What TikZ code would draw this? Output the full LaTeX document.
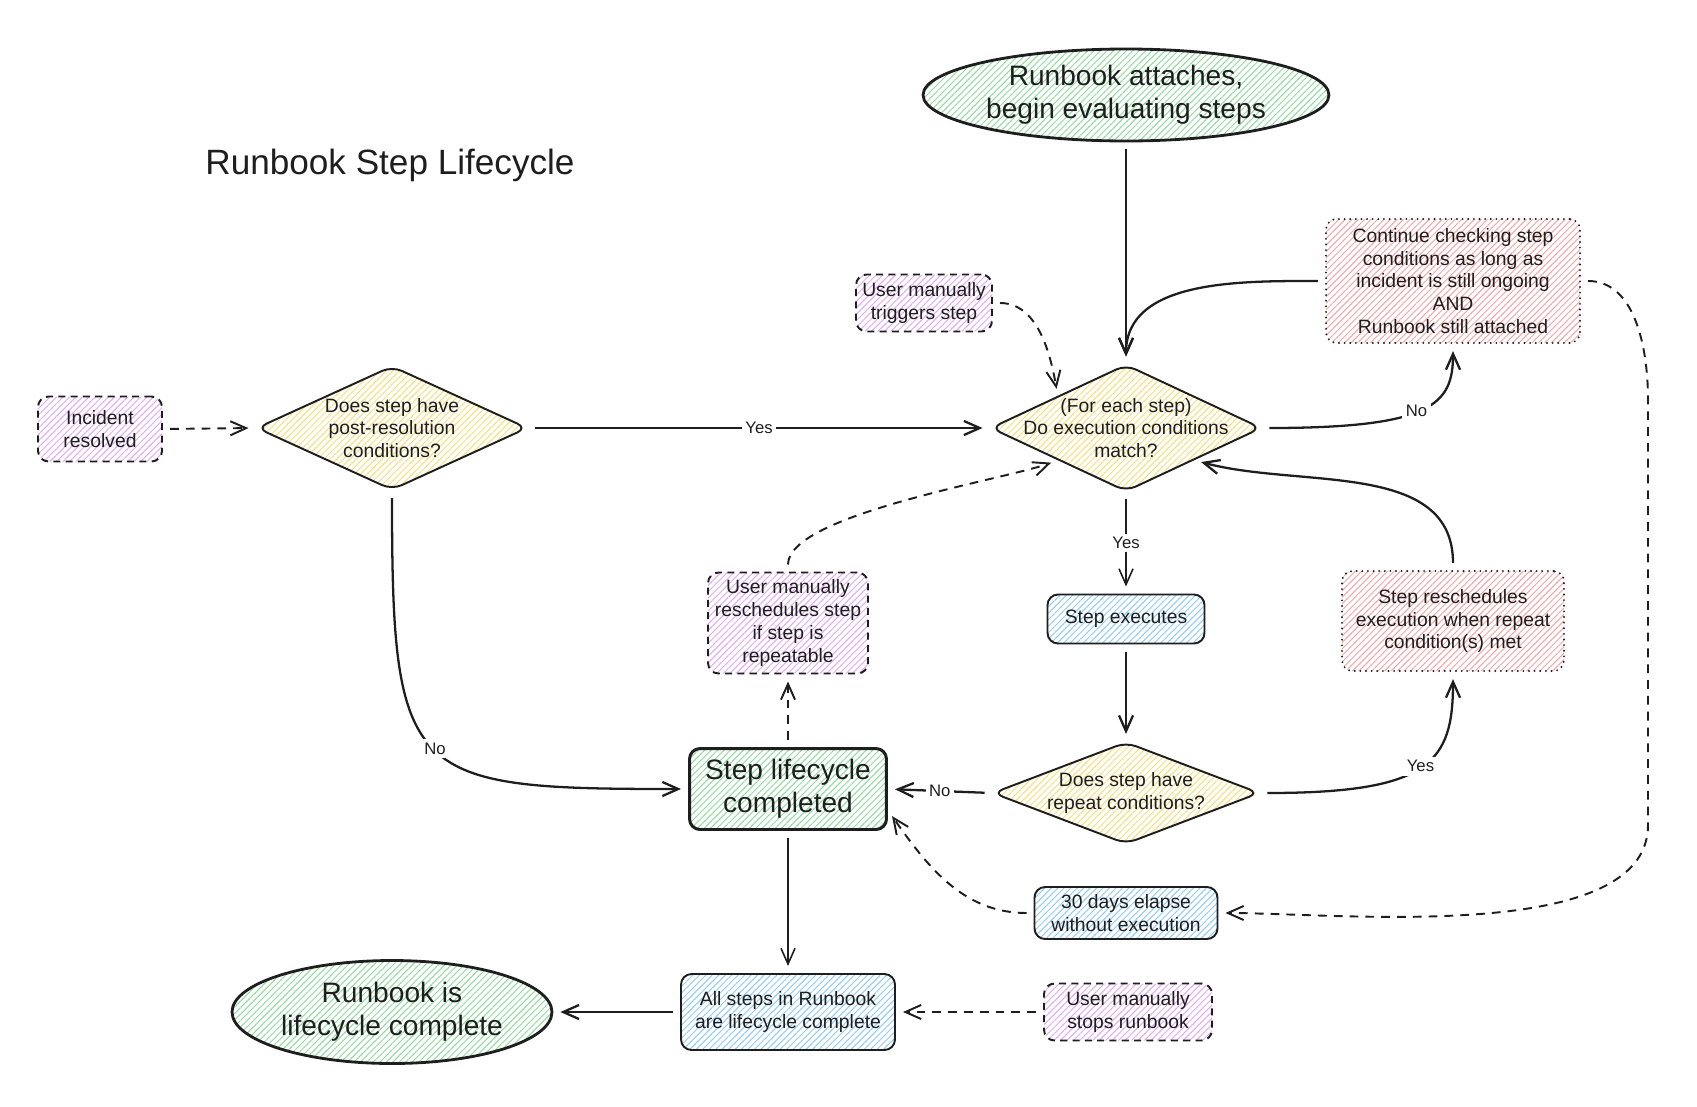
\documentclass[tikz,border=0pt]{standalone}
\usepackage{fontspec}
\setmainfont{Liberation Sans}
\usetikzlibrary{shapes.geometric,arrows.meta,patterns.meta}

\definecolor{ink}{HTML}{1E1E1E}
\definecolor{hgreen}{HTML}{8FDB9C}
\definecolor{hyellow}{HTML}{F9DE76}
\definecolor{hpurple}{HTML}{E3A8F5}
\definecolor{hblue}{HTML}{90CBF7}
\definecolor{hred}{HTML}{F7A3A3}

\begin{document}
\begin{tikzpicture}[x=0.02cm, y=0.02cm, draw=ink, text=ink, line width=1.1pt,
  every node/.style={font=\fontsize{11}{13}\selectfont},
  bigfont/.style={font=\fontsize{16}{19}\selectfont},
  hatch/.style={preaction={solid, line cap=butt, pattern={Lines[angle=45,distance=2.6pt,line width=0.55pt]}, pattern color=#1}},
  box/.style={rectangle, rounded corners=6pt, draw, align=center, inner sep=2pt},
  action/.style={box, hatch=hblue},
  manual/.style={box, hatch=hpurple, dash pattern=on 4pt off 3pt},
  waiting/.style={box, hatch=hred, dash pattern=on 0pt off 3.2pt, line cap=round, line width=1.2pt},
  decision/.style={diamond, draw, hatch=hyellow, rounded corners=6pt, inner sep=0pt},
  dtext/.style={align=center, font=\fontsize{11}{13}\selectfont},
  terminal/.style={ellipse, draw, hatch=hgreen, line width=1.6pt, inner sep=0pt, align=center, bigfont},
  flow/.style={-{Straight Barb[length=9pt,width=8pt]}, line width=1.3pt, shorten >=4pt, shorten <=4pt},
  thinflow/.style={flow, line width=0.9pt},
  dashflow/.style={flow, line width=1.1pt, dash pattern=on 5pt off 4pt},
  lbl/.style={fill=white, inner sep=2pt, font=\fontsize{9.5}{11}\selectfont}]
\useasboundingbox (0,0) rectangle (1697,-1106);

\node[font=\fontsize{20}{24}\selectfont] (title) at (390,-165) {Runbook Step Lifecycle};

% Start and end
\node[terminal, minimum width=8.12cm, minimum height=1.84cm] (attach) at (1126,-95) {Runbook attaches,\\begin evaluating steps};
\node[terminal, minimum width=6.4cm, minimum height=2.06cm] (finish) at (392,-1012) {Runbook is\\lifecycle complete};

% Decisions
\node[decision, minimum width=5.42cm, minimum height=2.48cm, label={[dtext]center:{Does step have\\post-resolution\\conditions?}}] (postres) at (392,-428) {};
\node[decision, minimum width=5.42cm, minimum height=2.54cm, label={[dtext]center:{(For each step)\\Do execution conditions\\match?}}] (match) at (1126,-428) {};
\node[decision, minimum width=5.34cm, minimum height=2.04cm, label={[dtext]center:{Does step have\\repeat conditions?}}] (repeat) at (1126,-793) {};

% Steps
\node[manual, minimum width=2.48cm, minimum height=1.30cm] (resolved) at (100,-429) {Incident\\resolved};
\node[manual, minimum width=2.72cm, minimum height=1.14cm] (trigger) at (924,-303) {User manually\\triggers step};
\node[waiting, minimum width=5.08cm, minimum height=2.48cm] (ongoing) at (1453,-281) {Continue checking step\\conditions as long as\\incident is still ongoing\\AND\\Runbook still attached};
\node[action, minimum width=3.14cm, minimum height=0.98cm] (execute) at (1126,-619) {Step executes};
\node[manual, minimum width=3.2cm, minimum height=2.02cm] (reschedule) at (788,-623) {User manually\\reschedules step\\if step is\\repeatable};
\node[waiting, minimum width=4.44cm, minimum height=2.0cm] (rearm) at (1453,-621) {Step reschedules\\execution when repeat\\condition(s) met};
\node[box, hatch=hgreen, line width=1.7pt, bigfont, minimum width=3.94cm, minimum height=1.62cm] (stepdone) at (788,-789) {Step lifecycle\\completed};
\node[action, minimum width=3.66cm, minimum height=1.04cm] (elapse) at (1126,-913) {30 days elapse\\without execution};
\node[action, minimum width=4.28cm, minimum height=1.52cm] (allsteps) at (788,-1012) {All steps in Runbook\\are lifecycle complete};
\node[manual, minimum width=3.36cm, minimum height=1.14cm] (stopped) at (1128,-1012) {User manually\\stops runbook};

\coordinate (rtop) at (1648,-400);
\coordinate (rbot) at (1648,-825);

% Solid connectors
\draw[flow] (attach.south) -- (match.north);
\draw[flow] (ongoing.west) to[out=180,in=90] (match.north);
\draw[flow] (postres.east) -- node[lbl]{Yes} (match.west);
\draw[flow] (match.east) .. controls +(170,0) and +(0,-60) .. (ongoing.south) node[lbl,pos=0.47]{No};
\draw[thinflow] (match.south) -- node[lbl]{Yes} (execute.north);
\draw[flow] (execute.south) -- (repeat.north);
\draw[flow] (repeat.east) .. controls +(170,0) and +(0,-90) .. (rearm.south) node[lbl,pos=0.5]{Yes};
\draw[flow] (rearm.north) to[out=90,in=-15] (match.south east);
\draw[flow] (repeat.west) -- node[lbl]{No} (stepdone.east);
\draw[flow] (postres.south) .. controls +(0,-290) and +(-280,0) .. (stepdone.west) node[lbl,pos=0.5]{No};
\draw[thinflow] (stepdone.south) -- (allsteps.north);
\draw[flow] (allsteps.west) -- (finish.east);

% Dashed connectors
\draw[dashflow] (resolved.east) -- (postres.west);
\draw[dashflow] (trigger.east) to[out=0,in=100] (match.north west);
\draw[dashflow] (stepdone.north) -- (reschedule.south);
\draw[dashflow] (reschedule.north) to[out=90,in=200,looseness=0.5] (match.south west);
\draw[dashflow] (ongoing.east) to[out=0,in=90] (rtop) -- (rbot) to[out=270,in=0,looseness=0.7] (elapse.east);
\draw[dashflow] (elapse.west) to[out=180,in=-55] (stepdone.-12);
\draw[dashflow] (stopped.west) -- (allsteps.east);
\end{tikzpicture}
\end{document}
